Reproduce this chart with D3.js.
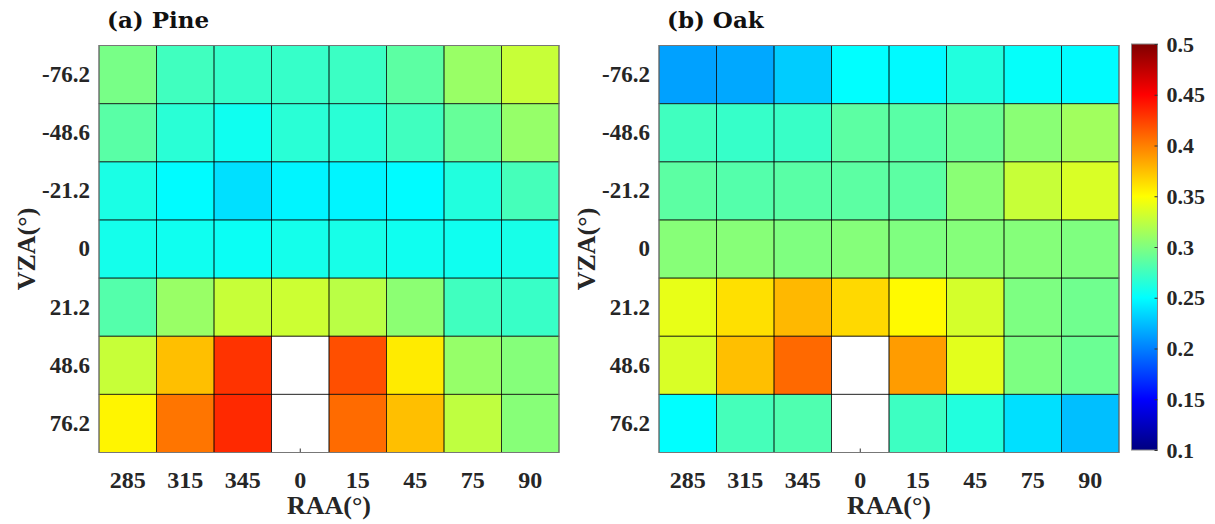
<!DOCTYPE html>
<html>
<head>
<meta charset="utf-8">
<script src="https://cdn.jsdelivr.net/npm/d3@7"></script>
<style>
  body { margin: 0; background: #fff; }
  svg { display: block; }
</style>
</head>
<body>
<svg id="chart" width="1215" height="524"></svg>
<script>
// ---- data ----
const raaLabels = ["285", "315", "345", "0", "15", "45", "75", "90"];
const vzaLabels = ["-76.2", "-48.6", "-21.2", "0", "21.2", "48.6", "76.2"];
const colorbarTicks = [0.1, 0.15, 0.2, 0.25, 0.3, 0.35, 0.4, 0.45, 0.5];
const panelTitles = ["(a) Pine", "(b) Oak"];

// rows follow vzaLabels (top to bottom), columns follow raaLabels; null = no data
const pineValues = [
  [0.297, 0.275, 0.271, 0.271, 0.273, 0.286, 0.310, 0.328],
  [0.285, 0.266, 0.256, 0.266, 0.266, 0.275, 0.290, 0.309],
  [0.260, 0.249, 0.238, 0.246, 0.246, 0.249, 0.263, 0.277],
  [0.258, 0.256, 0.254, 0.258, 0.259, 0.256, 0.256, 0.259],
  [0.283, 0.310, 0.328, 0.330, 0.323, 0.305, 0.275, 0.272],
  [0.328, 0.375, 0.430, null, 0.419, 0.358, 0.309, 0.302],
  [0.354, 0.404, 0.434, null, 0.408, 0.375, 0.325, 0.303]
];
const oakValues = [
  [0.213, 0.216, 0.230, 0.250, 0.248, 0.263, 0.252, 0.249],
  [0.275, 0.271, 0.272, 0.286, 0.285, 0.292, 0.304, 0.313],
  [0.286, 0.283, 0.285, 0.286, 0.286, 0.304, 0.328, 0.335],
  [0.303, 0.303, 0.300, 0.302, 0.300, 0.302, 0.302, 0.300],
  [0.341, 0.362, 0.378, 0.365, 0.352, 0.333, 0.299, 0.294],
  [0.335, 0.375, 0.409, null, 0.389, 0.339, 0.299, 0.292],
  [0.250, 0.277, 0.281, null, 0.274, 0.263, 0.238, 0.225]
];
const colorDomain = [0.1, 0.5];

// ---- jet colormap ----
function jet(t) {
  const c = v => Math.max(0, Math.min(1, v));
  const r = c(1.5 - Math.abs(4 * t - 3));
  const g = c(1.5 - Math.abs(4 * t - 2));
  const b = c(1.5 - Math.abs(4 * t - 1));
  return d3.rgb(r * 255, g * 255, b * 255).formatHex();
}
const color = d3.scaleSequential(jet).domain(colorDomain);

const svg = d3.select("#chart");
const serif = "'Liberation Serif', 'Times New Roman', serif";
const titleFont = "'DejaVu Serif', serif";

const panels = [
  { title: panelTitles[0], values: pineValues, x0: 99 },
  { title: panelTitles[1], values: oakValues, x0: 659 }
];
const pw = 460, y0 = 45.5, ph = 407;

panels.forEach(p => {
  const g = svg.append("g");
  const x = d3.scaleBand().domain(raaLabels).range([p.x0, p.x0 + pw]);
  const y = d3.scaleBand().domain(vzaLabels).range([y0, y0 + ph]);

  // ticks (drawn under cells, visible only where data missing)
  g.append("g")
    .attr("transform", `translate(0,${y0 + ph})`)
    .call(d3.axisBottom(x).tickSizeInner(-4).tickSizeOuter(0).tickPadding(18))
    .call(a => a.select(".domain").remove())
    .call(a => a.selectAll("line").attr("stroke", "#333"))
    .call(a => a.selectAll("text")
      .attr("font-family", serif).attr("font-weight", "bold")
      .attr("font-size", 24).attr("fill", "#262626")
      .attr("dy", "0.71em"));

  g.append("g")
    .attr("transform", `translate(${p.x0},0)`)
    .call(d3.axisLeft(y).tickSizeInner(-4).tickSizeOuter(0).tickPadding(9))
    .call(a => a.select(".domain").remove())
    .call(a => a.selectAll("line").attr("stroke", "#333"))
    .call(a => a.selectAll("text")
      .attr("font-family", serif).attr("font-weight", "bold")
      .attr("font-size", 23).attr("fill", "#262626"));

  // cells
  const cells = [];
  p.values.forEach((row, i) => row.forEach((v, j) => cells.push({ r: vzaLabels[i], c: raaLabels[j], v })));
  g.selectAll("rect.cell").data(cells.filter(d => d.v !== null)).join("rect")
    .attr("class", "cell")
    .attr("x", d => x(d.c)).attr("y", d => y(d.r))
    .attr("width", x.bandwidth()).attr("height", y.bandwidth())
    .attr("fill", d => color(d.v));

  // grid lines
  g.selectAll("rect.edge").data(cells).join("rect")
    .attr("class", "edge")
    .attr("x", d => x(d.c)).attr("y", d => y(d.r))
    .attr("width", x.bandwidth()).attr("height", y.bandwidth())
    .attr("fill", "none").attr("stroke", "#000").attr("stroke-opacity", 0.55).attr("stroke-width", 1);

  // outer box
  g.append("rect")
    .attr("x", p.x0).attr("y", y0).attr("width", pw).attr("height", ph)
    .attr("fill", "none").attr("stroke", "#777").attr("stroke-width", 1);

  // title
  g.append("text").attr("x", p.x0 + 8).attr("y", 28)
    .attr("font-family", titleFont).attr("font-weight", "bold")
    .attr("font-size", 23).attr("fill", "#111").text(p.title);

  // axis labels
  g.append("text").attr("x", p.x0 + pw / 2).attr("y", 514)
    .attr("text-anchor", "middle")
    .attr("font-family", serif).attr("font-weight", "bold")
    .attr("font-size", 26).attr("fill", "#262626").text("RAA(°)");
  g.append("text")
    .attr("transform", `translate(${p.x0 - 64},${y0 + ph / 2}) rotate(-90)`)
    .attr("text-anchor", "middle")
    .attr("font-family", serif).attr("font-weight", "bold")
    .attr("font-size", 26).attr("fill", "#262626").text("VZA(°)");
});

// ---- colorbar ----
const cbX = 1131.5, cbW = 26, cbTop = 44, cbBot = 450;
const cy = d3.scaleLinear().domain(colorDomain).range([cbBot, cbTop]);
const defs = svg.append("defs");
const grad = defs.append("linearGradient").attr("id", "jetgrad")
  .attr("x1", 0).attr("y1", 1).attr("x2", 0).attr("y2", 0);
d3.range(0, 65).forEach(i => {
  const t = i / 64;
  grad.append("stop").attr("offset", t).attr("stop-color", jet(t));
});
svg.append("rect").attr("x", cbX).attr("y", cbTop).attr("width", cbW).attr("height", cbBot - cbTop)
  .attr("fill", "url(#jetgrad)").attr("stroke", "#888").attr("stroke-width", 1);
svg.append("g")
  .attr("transform", `translate(${cbX + cbW},0)`)
  .call(d3.axisRight(cy).tickValues(colorbarTicks).tickFormat(d3.format("")).tickSizeInner(-3).tickSizeOuter(0).tickPadding(9))
  .call(a => a.select(".domain").remove())
  .call(a => a.selectAll("line").attr("stroke", "#333"))
  .call(a => a.selectAll("text")
    .attr("font-family", serif).attr("font-weight", "bold")
    .attr("font-size", 22).attr("fill", "#262626"));
</script>
</body>
</html>
